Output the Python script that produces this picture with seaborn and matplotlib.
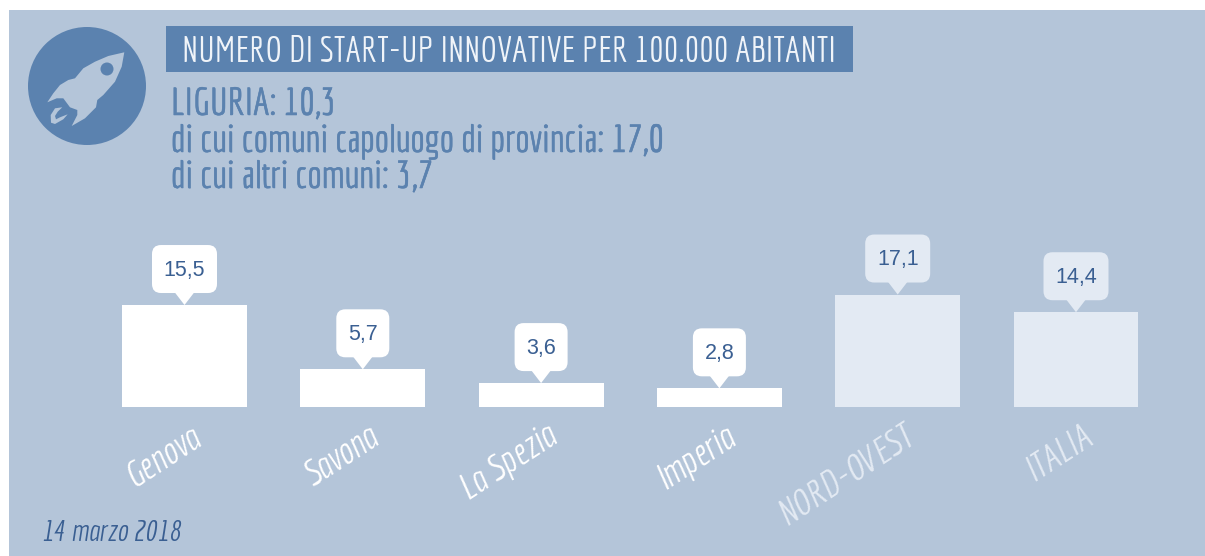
from __future__ import annotations

import matplotlib

matplotlib.use("Agg")

import matplotlib.patheffects as pe
import matplotlib.pyplot as plt
import seaborn as sns
from matplotlib.patches import Circle, FancyBboxPatch, Polygon, Rectangle
from matplotlib.transforms import Affine2D, ScaledTranslation


CATEGORIES = ["Genova", "Savona", "La Spezia", "Imperia", "NORD-OVEST", "ITALIA"]
VALUES = [15.5, 5.7, 3.6, 2.8, 17.1, 14.4]
VALUE_LABELS = ["15,5", "5,7", "3,6", "2,8", "17,1", "14,4"]

TITLE = "NUMERO DI START-UP INNOVATIVE PER 100.000 ABITANTI"
SUBTITLE_LINES = [
    "LIGURIA: 10,3",
    "di cui comuni capoluogo di provincia: 17,0",
    "di cui altri comuni: 3,7",
]
DATE_LABEL = "14 marzo 2018"

PANEL = "#B4C5D9"
BLUE = "#5B82AF"
DARK_BLUE = "#3A5F92"
WHITE = "#FFFFFF"
PALE = "#E3EAF3"
BAR_COLORS = [WHITE, WHITE, WHITE, WHITE, PALE, PALE]

NARROW = ["Economica", "Liberation Sans", "DejaVu Sans"]
W, H = 1205, 556


def thick(width: float, color: str) -> list:
    return [pe.withStroke(linewidth=width, foreground=color)]


def draw_header(bg) -> None:
    bg.add_patch(Rectangle((9, 10), W - 9, H - 10, color=PANEL, lw=0))
    bg.add_patch(Circle((87, 86), 59, color=BLUE, lw=0))

    # rocket icon
    rocket = [
        (124.3, 52.3), (121.7, 66.7), (115, 81.7), (103.3, 95), (97.3, 100), (96, 107.3),
        (85, 118.3), (71.7, 126), (77.3, 115), (77.3, 110), (70, 107.3), (63.3, 98.3),
        (56.7, 98.3), (47.3, 102.3), (53.3, 93.3), (60, 85), (68.3, 80), (75, 78.3),
        (83.3, 68.3), (95, 61.7), (108.3, 56),
    ]
    flame = [
        (62.3, 107.3), (55, 108.3), (50.7, 115), (51, 122.7), (55, 124), (63.3, 119.3),
        (67.7, 114.3), (60, 117.3), (56, 119.3), (55, 116), (57.7, 111.7),
    ]
    bg.add_patch(Polygon(rocket, closed=True, color=PANEL, lw=0))
    bg.add_patch(Polygon(flame, closed=True, color=PANEL, lw=0))
    bg.add_patch(Circle((107, 69), 6.5, color=BLUE, lw=0))

    bg.add_patch(Rectangle((166, 26), 687, 46, color=BLUE, lw=0))
    bg.text(182, 62, TITLE, color="#F0F4F9", fontsize=25.6, family=NARROW, va="baseline")

    for line, y in zip(SUBTITLE_LINES, [115, 152, 188]):
        bg.text(171, y, line, color=BLUE, fontsize=27.4, family=NARROW, va="baseline", path_effects=thick(0.4, BLUE))
    bg.text(42, 541, DATE_LABEL, color=DARK_BLUE, fontsize=21, family=NARROW, style="italic", va="baseline")


def draw_callout(ax, x: int, value: float, label: str, color: str) -> None:
    # shape is in pixels, anchored on the top of the bar
    anchor = Affine2D() + ScaledTranslation(x, value, ax.transData)
    half = 32.5 if len(label) > 3 else 26.5
    box = FancyBboxPatch(
        (-half + 9, 21),
        2 * half - 18,
        30,
        boxstyle="round,pad=9,rounding_size=9",
        facecolor=color,
        edgecolor="none",
        transform=anchor,
        clip_on=False,
    )
    tip = Polygon([(-10, 13), (0, 0), (10, 13)], closed=True, facecolor=color, edgecolor="none", transform=anchor, clip_on=False)
    ax.add_patch(box)
    ax.add_patch(tip)
    ax.text(0, 35, label, color=DARK_BLUE, fontsize=15.5, family="Liberation Sans", ha="center", va="center", transform=anchor)


def main() -> None:
    sns.set_theme(style="white")
    fig = plt.figure(figsize=(W / 100, H / 100), dpi=100, facecolor="white")

    bg = fig.add_axes([0, 0, 1, 1])
    bg.set_xlim(0, W)
    bg.set_ylim(H, 0)
    bg.axis("off")
    draw_header(bg)

    ax = fig.add_axes([95.35 / W, (H - 406.7) / H, 1069.8 / W, 131.2 / H])
    ax.patch.set_alpha(0)
    sns.barplot(
        x=CATEGORIES,
        y=VALUES,
        hue=CATEGORIES,
        palette=BAR_COLORS,
        saturation=1,
        width=0.7,
        linewidth=0,
        legend=False,
        ax=ax,
    )
    ax.set_ylim(0, 20)
    ax.set_yticks([])
    ax.set_xlabel("")
    ax.set_ylabel("")
    sns.despine(ax=ax, left=True, bottom=True)
    ax.tick_params(axis="x", length=0, pad=10)
    ax.set_xticks(range(len(CATEGORIES)))
    ax.set_xticklabels(CATEGORIES, rotation=33, ha="right", va="top", rotation_mode="anchor")

    shift = Affine2D().translate(4, 0)
    for tick, color in zip(ax.get_xticklabels(), BAR_COLORS):
        tick.set_color(color)
        tick.set_fontsize(26.5)
        tick.set_family(NARROW)
        tick.set_style("italic")
        tick.set_transform(tick.get_transform() + shift)

    for i, (value, label) in enumerate(zip(VALUES, VALUE_LABELS)):
        draw_callout(ax, i, value, label, BAR_COLORS[i])

    fig.savefig("out.png", dpi=100)
    plt.close(fig)


if __name__ == "__main__":
    main()
